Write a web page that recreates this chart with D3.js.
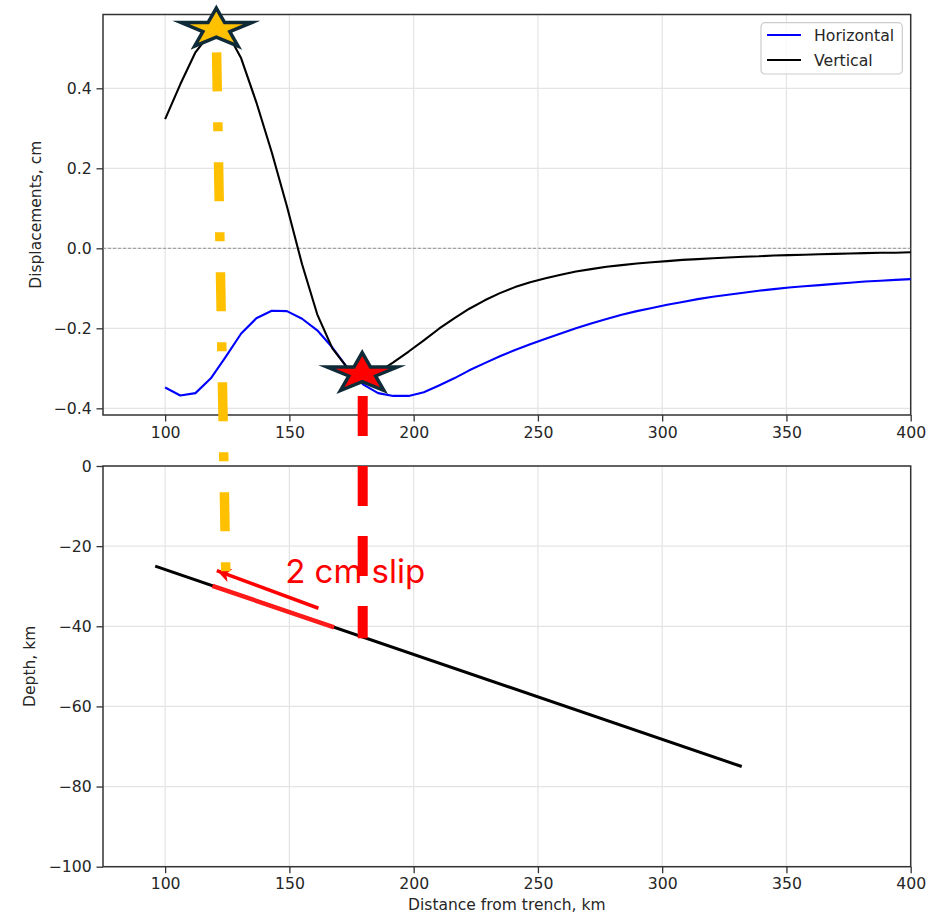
<!DOCTYPE html>
<html>
<head>
<meta charset="utf-8">
<script src="https://cdn.jsdelivr.net/npm/d3@7"></script>
<style>
  body { margin: 0; background: #fff; }
  svg { display: block; font-family: "DejaVu Sans", sans-serif; }
</style>
</head>
<body>
<div id="chart"></div>
<script>
const distance = [100.0, 106.1, 112.2, 118.4, 124.5, 130.6, 136.7, 142.9, 149.0, 155.1,
    161.2, 167.3, 173.5, 179.6, 185.7, 191.8, 198.0, 204.1, 210.2, 216.3,
    222.4, 228.6, 234.7, 240.8, 246.9, 253.1, 259.2, 265.3, 271.4, 277.6,
    283.7, 289.8, 295.9, 302.0, 308.2, 314.3, 320.4, 326.5, 332.7, 338.8,
    344.9, 351.0, 357.1, 363.3, 369.4, 375.5, 381.6, 387.8, 393.9, 400.0];

const horizontal = [-0.348, -0.368, -0.362, -0.325, -0.270, -0.213, -0.175, -0.156, -0.157, -0.176,
    -0.205, -0.248, -0.300, -0.340, -0.362, -0.369, -0.369, -0.360, -0.343, -0.325,
    -0.305, -0.287, -0.270, -0.254, -0.240, -0.226, -0.213, -0.200, -0.188, -0.177,
    -0.166, -0.157, -0.149, -0.141, -0.134, -0.127, -0.121, -0.116, -0.111, -0.106,
    -0.102, -0.098, -0.095, -0.092, -0.089, -0.086, -0.083, -0.081, -0.079, -0.077];

const vertical = [0.323, 0.410, 0.490, 0.540, 0.545, 0.475, 0.365, 0.240, 0.105, -0.040,
    -0.165, -0.250, -0.300, -0.318, -0.310, -0.285, -0.258, -0.230, -0.201, -0.175,
    -0.151, -0.130, -0.112, -0.097, -0.085, -0.075, -0.066, -0.058, -0.052, -0.046,
    -0.042, -0.038, -0.035, -0.032, -0.029, -0.027, -0.025, -0.023, -0.021, -0.020,
    -0.018, -0.017, -0.016, -0.015, -0.014, -0.013, -0.012, -0.011, -0.011, -0.010];

const xTicks = [100, 150, 200, 250, 300, 350, 400];
const dispTicks = [-0.4, -0.2, 0.0, 0.2, 0.4];
const depthTicks = [0, -20, -40, -60, -80, -100];

const series = [
    { name: "Horizontal", values: horizontal, color: "#0000ff" },
    { name: "Vertical", values: vertical, color: "#000000" }
];

// fault geometry and annotations (km / cm)
const faultTrace = [[96, -25], [332, -75]];
const slipPatch = [[119, -29.9], [168, -40.3]];
const slipArrow = [[161.7, -35.5], [120.8, -26.1]];
const slipLabel = ["2 cm slip", 148.3, -29.2];
const peakStar = [120.6, 0.548];
const troughStar = [179.3, -0.313];
const peakGuide = [[120.7, 0.49], [124.4, -26.45]];
const troughGuide = [[179.5, -0.369], [179.5, -43]];

const width = 933;
const height = 918;
const left = 103, right = 910.7;

const x = d3.scaleLinear().domain([75, 400]).range([left, right]);
const yTop = d3.scaleLinear().domain([-0.4167, 0.5845]).range([415, 14.5]);
const yBot = d3.scaleLinear().domain([-100, 0]).range([866.7, 466]);

const svg = d3.select("#chart").append("svg")
    .attr("width", width)
    .attr("height", height);

const fmtMinus = f => d => f(d).replace("-", "\u2212");

function panel(y, yTicks, yFormat, showXLabels) {
    const g = svg.append("g");
    const [y0, y1] = y.range();

    g.selectAll(".gx").data(xTicks).enter().append("line")
        .attr("x1", d => x(d)).attr("x2", d => x(d))
        .attr("y1", y1).attr("y2", y0)
        .attr("stroke", "#e4e4e4").attr("stroke-width", 1.2);
    g.selectAll(".gy").data(yTicks).enter().append("line")
        .attr("x1", left).attr("x2", right)
        .attr("y1", d => y(d)).attr("y2", d => y(d))
        .attr("stroke", "#e4e4e4").attr("stroke-width", 1.2);

    const xAxis = g.append("g")
        .attr("transform", `translate(0,${y0})`)
        .call(d3.axisBottom(x).tickValues(xTicks).tickSize(6.5).tickPadding(5).tickFormat(d3.format("d")));
    const yAxis = g.append("g")
        .attr("transform", `translate(${left},0)`)
        .call(d3.axisLeft(y).tickValues(yTicks).tickSize(6.5).tickPadding(4.8).tickFormat(yFormat));

    [xAxis, yAxis].forEach(a => {
        a.select(".domain").remove();
        a.selectAll(".tick line").attr("stroke", "#333").attr("stroke-width", 1.3);
        a.selectAll(".tick text").attr("fill", "#262626")
            .style("font-size", "15.7px").style("font-family", "DejaVu Sans");
    });

    g.append("rect")
        .attr("x", left).attr("y", y1)
        .attr("width", right - left).attr("height", y0 - y1)
        .attr("fill", "none").attr("stroke", "#333").attr("stroke-width", 1.5);
    return g;
}

const topPanel = panel(yTop, dispTicks, fmtMinus(d3.format(".1f")), true);
const botPanel = panel(yBot, depthTicks, fmtMinus(d3.format("d")), true);

topPanel.append("line")
    .attr("x1", left).attr("x2", right)
    .attr("y1", yTop(0)).attr("y2", yTop(0))
    .attr("stroke", "#8a8a8a").attr("stroke-width", 0.9)
    .attr("stroke-dasharray", "3,2");

const line = d3.line().x((d, i) => x(distance[i])).y(d => yTop(d));

topPanel.selectAll(".series").data(series).enter().append("path")
    .attr("d", d => line(d.values))
    .attr("fill", "none")
    .attr("stroke", d => d.color)
    .attr("stroke-width", 2.1)
    .attr("stroke-linejoin", "round");

// legend
const legend = topPanel.append("g");
legend.append("rect")
    .attr("x", 761).attr("y", 22.7).attr("width", 141.3).attr("height", 51.3)
    .attr("rx", 4).attr("fill", "#fff").attr("fill-opacity", 0.8)
    .attr("stroke", "#cccccc").attr("stroke-width", 1.2);
const items = legend.selectAll(".item").data(series).enter().append("g")
    .attr("transform", (d, i) => `translate(0,${35 + i * 25})`);
items.append("line")
    .attr("x1", 767).attr("x2", 801)
    .attr("stroke", d => d.color).attr("stroke-width", 2.1);
items.append("text")
    .attr("x", 814).attr("dy", "0.36em")
    .attr("fill", "#262626").style("font-size", "15.7px")
    .text(d => d.name);

// axis labels
svg.append("text")
    .attr("transform", `translate(40.5,${(yTop.range()[0] + yTop.range()[1]) / 2}) rotate(-90)`)
    .attr("text-anchor", "middle").attr("fill", "#262626").style("font-size", "15.5px")
    .text("Displacements, cm");
svg.append("text")
    .attr("transform", `translate(34.6,${(yBot.range()[0] + yBot.range()[1]) / 2}) rotate(-90)`)
    .attr("text-anchor", "middle").attr("fill", "#262626").style("font-size", "15.5px")
    .text("Depth, km");
svg.append("text")
    .attr("x", (left + right) / 2).attr("y", 910.3)
    .attr("text-anchor", "middle").attr("fill", "#262626").style("font-size", "15.5px")
    .text("Distance from trench, km");

// fault and slip
const faultLine = d3.line().x(d => x(d[0])).y(d => yBot(d[1]));

botPanel.append("path")
    .attr("d", faultLine(faultTrace))
    .attr("stroke", "#000").attr("stroke-width", 3).attr("fill", "none");
botPanel.append("path")
    .attr("d", faultLine(slipPatch))
    .attr("stroke", "#ff1a1a").attr("stroke-width", 4.5).attr("fill", "none");

svg.append("defs").append("marker")
    .attr("id", "head")
    .attr("markerUnits", "userSpaceOnUse")
    .attr("markerWidth", 16).attr("markerHeight", 14)
    .attr("refX", 14).attr("refY", 7)
    .attr("orient", "auto")
    .append("path")
    .attr("d", "M0,0L14,7L0,14L4,7Z")
    .attr("fill", "#ff0000");

botPanel.append("path")
    .attr("d", faultLine(slipArrow))
    .attr("stroke", "#ff0000").attr("stroke-width", 3.5).attr("fill", "none")
    .attr("marker-end", "url(#head)");

svg.append("text")
    .attr("x", x(slipLabel[1])).attr("y", yBot(slipLabel[2]))
    .attr("fill", "#ff0000")
    .style("font-family", "Inter, 'Open Sans', sans-serif")
    .style("font-size", "33px")
    .text(slipLabel[0]);

// guide lines between panels
svg.append("line")
    .attr("x1", x(peakGuide[0][0])).attr("y1", yTop(peakGuide[0][1]))
    .attr("x2", x(peakGuide[1][0])).attr("y2", yBot(peakGuide[1][1]))
    .attr("stroke", "#ffc000").attr("stroke-width", 9.5)
    .attr("stroke-dasharray", "39 31 9 31");
svg.append("line")
    .attr("x1", x(troughGuide[0][0])).attr("y1", yTop(troughGuide[0][1]))
    .attr("x2", x(troughGuide[1][0])).attr("y2", yBot(troughGuide[1][1]))
    .attr("stroke", "#ff0000").attr("stroke-width", 10)
    .attr("stroke-dasharray", "40 30");

function starPath(rx, ry) {
    const pts = d3.range(10).map(i => {
        const a = -Math.PI / 2 + i * Math.PI / 5;
        const r = i % 2 ? 0.382 : 1;
        return [Math.cos(a) * r * rx, Math.sin(a) * r * ry];
    });
    return "M" + pts.map(p => p.join(",")).join("L") + "Z";
}

svg.selectAll(".star")
    .data([[peakStar, "#ffc000"], [troughStar, "#ff0000"]])
    .enter().append("path")
    .attr("transform", d => `translate(${x(d[0][0])},${yTop(d[0][1])})`)
    .attr("d", starPath(37, 21))
    .attr("fill", d => d[1])
    .attr("stroke", "#0f2b38").attr("stroke-width", 3.5)
    .attr("stroke-linejoin", "miter").attr("stroke-miterlimit", 10);
</script>
</body>
</html>
